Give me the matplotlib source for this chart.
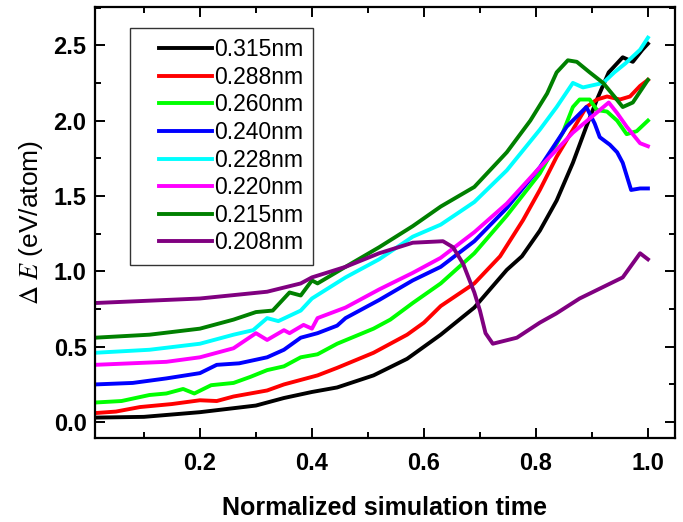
import matplotlib
matplotlib.use('Agg')
import matplotlib.pyplot as plt
from matplotlib.legend_handler import HandlerLine2D
from matplotlib.ticker import MultipleLocator

plt.rcParams['font.family'] = ['Liberation Sans', 'DejaVu Sans']
plt.rcParams['mathtext.fontset'] = 'stix'

labels = ['0.315nm', '0.288nm', '0.260nm', '0.240nm', '0.228nm', '0.220nm', '0.215nm', '0.208nm']
colors = ['black', 'red', '#00ff00', 'blue', 'cyan', 'magenta', 'green', 'purple']

# 0.315 nm
x_315 = [0.0125, 0.1, 0.2, 0.3, 0.35, 0.4, 0.445, 0.51, 0.57, 0.63, 0.69, 0.748, 0.775, 0.807, 0.837,
         0.866, 0.89, 0.909, 0.93, 0.955, 0.973, 0.99, 1.0]
y_315 = [0.03, 0.035, 0.066, 0.11, 0.16, 0.2, 0.23, 0.31, 0.42, 0.58, 0.76, 1.01, 1.10, 1.27, 1.47,
         1.72, 1.96, 2.14, 2.32, 2.42, 2.39, 2.47, 2.51]

# 0.288 nm
x_288 = [0.0125, 0.05, 0.093, 0.15, 0.2, 0.23, 0.26, 0.29, 0.32, 0.35, 0.38, 0.41, 0.445, 0.51, 0.57,
         0.60, 0.63, 0.69, 0.736, 0.777, 0.807, 0.837, 0.866, 0.89, 0.909, 0.927, 0.95, 0.968, 0.986, 1.0]
y_288 = [0.06, 0.07, 0.10, 0.12, 0.145, 0.14, 0.17, 0.19, 0.21, 0.25, 0.28, 0.31, 0.36, 0.46, 0.58,
         0.66, 0.77, 0.92, 1.10, 1.34, 1.54, 1.76, 1.94, 2.09, 2.14, 2.16, 2.14, 2.16, 2.23, 2.27]

# 0.260 nm
x_260 = [0.0125, 0.06, 0.11, 0.14, 0.17, 0.19, 0.22, 0.26, 0.29, 0.32, 0.35, 0.38, 0.41, 0.445, 0.51,
         0.54, 0.58, 0.63, 0.69, 0.748, 0.807, 0.848, 0.866, 0.878, 0.896, 0.909, 0.927, 0.945, 0.962,
         0.98, 1.0]
y_260 = [0.13, 0.14, 0.18, 0.19, 0.22, 0.19, 0.245, 0.26, 0.30, 0.345, 0.37, 0.43, 0.45, 0.52, 0.62,
         0.68, 0.79, 0.92, 1.12, 1.37, 1.65, 1.92, 2.09, 2.14, 2.14, 2.07, 2.06, 2.0, 1.91, 1.93, 2.0]

# 0.240 nm
x_240 = [0.0125, 0.08, 0.14, 0.2, 0.23, 0.27, 0.32, 0.35, 0.38, 0.41, 0.445, 0.46, 0.52, 0.58, 0.63,
         0.69, 0.748, 0.807, 0.855, 0.89, 0.905, 0.914, 0.932, 0.945, 0.955, 0.97, 0.986, 1.0]
y_240 = [0.25, 0.26, 0.29, 0.325, 0.38, 0.39, 0.43, 0.48, 0.56, 0.59, 0.64, 0.69, 0.81, 0.94, 1.03,
         1.20, 1.42, 1.69, 1.96, 2.09, 1.98, 1.89, 1.84, 1.79, 1.72, 1.54, 1.55, 1.55]

# 0.228 nm
x_228 = [0.0125, 0.11, 0.2, 0.26, 0.295, 0.32, 0.34, 0.38, 0.40, 0.46, 0.52, 0.58, 0.63, 0.69, 0.748,
         0.807, 0.837, 0.866, 0.884, 0.92, 0.94, 0.96, 0.986, 1.0]
y_228 = [0.46, 0.48, 0.52, 0.58, 0.61, 0.69, 0.67, 0.74, 0.82, 0.96, 1.08, 1.23, 1.31, 1.46, 1.67,
         1.94, 2.09, 2.25, 2.22, 2.25, 2.32, 2.38, 2.47, 2.55]

# 0.220 nm
x_220 = [0.0125, 0.14, 0.2, 0.26, 0.30, 0.32, 0.35, 0.36, 0.385, 0.40, 0.41, 0.46, 0.52, 0.58, 0.63,
         0.69, 0.748, 0.807, 0.866, 0.914, 0.93, 0.945, 0.962, 0.986, 1.0]
y_220 = [0.38, 0.40, 0.43, 0.49, 0.59, 0.545, 0.61, 0.59, 0.645, 0.62, 0.69, 0.76, 0.88, 0.99, 1.09,
         1.26, 1.45, 1.69, 1.92, 2.07, 2.12, 2.05, 1.96, 1.85, 1.83]

# 0.215 nm
x_215 = [0.0125, 0.11, 0.2, 0.26, 0.30, 0.33, 0.36, 0.38, 0.40, 0.41, 0.46, 0.52, 0.58, 0.63, 0.69,
         0.748, 0.79, 0.82, 0.837, 0.857, 0.873, 0.896, 0.92, 0.94, 0.955, 0.973, 1.0]
y_215 = [0.56, 0.58, 0.62, 0.68, 0.73, 0.74, 0.86, 0.84, 0.94, 0.92, 1.03, 1.16, 1.30, 1.43, 1.56,
         1.79, 2.0, 2.18, 2.32, 2.40, 2.39, 2.32, 2.25, 2.16, 2.09, 2.12, 2.27]

# 0.208 nm
x_208 = [0.0125, 0.2, 0.32, 0.38, 0.40, 0.46, 0.52, 0.58, 0.634, 0.652, 0.67, 0.69, 0.70, 0.71, 0.723,
         0.766, 0.807, 0.836, 0.878, 0.955, 0.986, 1.0]
y_208 = [0.79, 0.82, 0.865, 0.92, 0.96, 1.03, 1.12, 1.19, 1.20, 1.16, 1.05, 0.86, 0.74, 0.59, 0.52,
         0.56, 0.66, 0.72, 0.82, 0.96, 1.12, 1.08]

xs = [x_315, x_288, x_260, x_240, x_228, x_220, x_215, x_208]
ys = [y_315, y_288, y_260, y_240, y_228, y_220, y_215, y_208]

fig = plt.figure(figsize=(6.83, 5.22), dpi=100)
ax = fig.add_axes([0.139, 0.161, 0.849, 0.826])

for x, y, c, lab in zip(xs, ys, colors, labels):
    ax.plot(x, y, color=c, lw=2.8, label=lab)

ax.set_xlim(0.0125, 1.048)
ax.set_ylim(-0.105, 2.755)
ax.xaxis.set_major_locator(MultipleLocator(0.2))
ax.xaxis.set_minor_locator(MultipleLocator(0.1))
ax.yaxis.set_major_locator(MultipleLocator(0.5))
ax.yaxis.set_minor_locator(MultipleLocator(0.25))
ax.tick_params(which='both', direction='in', top=True, right=True, width=1.4)
ax.tick_params(which='major', length=7, labelsize=17, pad=6)
ax.tick_params(which='minor', length=4)
ax.tick_params(axis='x', which='major', pad=10)
ax.tick_params(labelright=False, labeltop=False)
for lbl in ax.get_xticklabels() + ax.get_yticklabels():
    lbl.set_fontweight('bold')
for s in ax.spines.values():
    s.set_linewidth(1.6)

ax.set_xlabel('Normalized simulation time', fontsize=18, fontweight='bold', labelpad=15)
ax.set_ylabel(r'$\Delta\ E$ (eV/atom)', fontsize=19, labelpad=6)

leg = ax.legend(loc='upper left', bbox_to_anchor=(0.06, 0.951), borderaxespad=0,
                fontsize=16.5, frameon=True, fancybox=False, edgecolor='black',
                handlelength=3.12, handletextpad=0.1, labelspacing=0.20, borderpad=0.45,
                handler_map={plt.Line2D: HandlerLine2D(xpad=0.81)})
leg.get_frame().set_linewidth(1.0)

fig.savefig('out.png', dpi=100)
